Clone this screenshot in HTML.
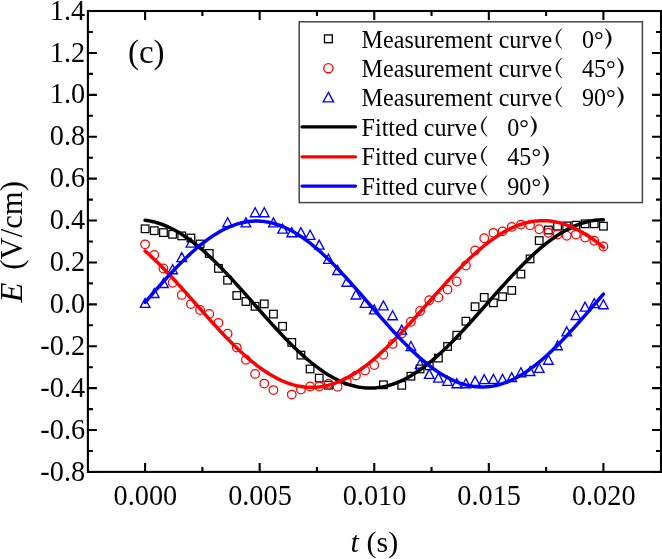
<!DOCTYPE html>
<html><head><meta charset="utf-8"><title>Chart</title>
<style>html,body{margin:0;padding:0;background:#fff;}body{width:662px;height:559px;overflow:hidden;font-family:"Liberation Serif",serif;}svg{display:block;}text{font-family:"Liberation Serif",serif;}#txt{opacity:0.99;}#ltxt{filter:grayscale(1);}</style>
</head><body>
<svg width="662" height="559" viewBox="0 0 662 559">
<rect x="0" y="0" width="662" height="559" fill="#fff"/>
<g id="markers">
<rect x="141.30" y="225.00" width="7.6" height="7.6" fill="none" stroke="#000" stroke-width="1.25"/>
<rect x="150.47" y="226.90" width="7.6" height="7.6" fill="none" stroke="#000" stroke-width="1.25"/>
<rect x="159.63" y="228.80" width="7.6" height="7.6" fill="none" stroke="#000" stroke-width="1.25"/>
<rect x="168.80" y="230.50" width="7.6" height="7.6" fill="none" stroke="#000" stroke-width="1.25"/>
<rect x="177.96" y="232.10" width="7.6" height="7.6" fill="none" stroke="#000" stroke-width="1.25"/>
<rect x="187.13" y="234.20" width="7.6" height="7.6" fill="none" stroke="#000" stroke-width="1.25"/>
<rect x="196.30" y="240.20" width="7.6" height="7.6" fill="none" stroke="#000" stroke-width="1.25"/>
<rect x="205.46" y="249.70" width="7.6" height="7.6" fill="none" stroke="#000" stroke-width="1.25"/>
<rect x="214.63" y="264.60" width="7.6" height="7.6" fill="none" stroke="#000" stroke-width="1.25"/>
<rect x="223.79" y="276.40" width="7.6" height="7.6" fill="none" stroke="#000" stroke-width="1.25"/>
<rect x="232.96" y="291.70" width="7.6" height="7.6" fill="none" stroke="#000" stroke-width="1.25"/>
<rect x="242.13" y="297.70" width="7.6" height="7.6" fill="none" stroke="#000" stroke-width="1.25"/>
<rect x="251.29" y="302.50" width="7.6" height="7.6" fill="none" stroke="#000" stroke-width="1.25"/>
<rect x="260.46" y="300.10" width="7.6" height="7.6" fill="none" stroke="#000" stroke-width="1.25"/>
<rect x="269.62" y="310.30" width="7.6" height="7.6" fill="none" stroke="#000" stroke-width="1.25"/>
<rect x="278.79" y="322.50" width="7.6" height="7.6" fill="none" stroke="#000" stroke-width="1.25"/>
<rect x="287.96" y="338.60" width="7.6" height="7.6" fill="none" stroke="#000" stroke-width="1.25"/>
<rect x="297.12" y="351.30" width="7.6" height="7.6" fill="none" stroke="#000" stroke-width="1.25"/>
<rect x="306.29" y="365.20" width="7.6" height="7.6" fill="none" stroke="#000" stroke-width="1.25"/>
<rect x="315.45" y="374.30" width="7.6" height="7.6" fill="none" stroke="#000" stroke-width="1.25"/>
<rect x="324.62" y="381.40" width="7.6" height="7.6" fill="none" stroke="#000" stroke-width="1.25"/>
<rect x="379.62" y="381.00" width="7.6" height="7.6" fill="none" stroke="#000" stroke-width="1.25"/>
<rect x="397.95" y="381.50" width="7.6" height="7.6" fill="none" stroke="#000" stroke-width="1.25"/>
<rect x="407.11" y="372.40" width="7.6" height="7.6" fill="none" stroke="#000" stroke-width="1.25"/>
<rect x="416.28" y="365.10" width="7.6" height="7.6" fill="none" stroke="#000" stroke-width="1.25"/>
<rect x="425.45" y="362.10" width="7.6" height="7.6" fill="none" stroke="#000" stroke-width="1.25"/>
<rect x="434.61" y="354.30" width="7.6" height="7.6" fill="none" stroke="#000" stroke-width="1.25"/>
<rect x="443.78" y="342.70" width="7.6" height="7.6" fill="none" stroke="#000" stroke-width="1.25"/>
<rect x="452.94" y="331.40" width="7.6" height="7.6" fill="none" stroke="#000" stroke-width="1.25"/>
<rect x="462.11" y="317.40" width="7.6" height="7.6" fill="none" stroke="#000" stroke-width="1.25"/>
<rect x="471.28" y="302.90" width="7.6" height="7.6" fill="none" stroke="#000" stroke-width="1.25"/>
<rect x="480.44" y="293.60" width="7.6" height="7.6" fill="none" stroke="#000" stroke-width="1.25"/>
<rect x="489.61" y="299.00" width="7.6" height="7.6" fill="none" stroke="#000" stroke-width="1.25"/>
<rect x="498.77" y="292.90" width="7.6" height="7.6" fill="none" stroke="#000" stroke-width="1.25"/>
<rect x="507.94" y="286.60" width="7.6" height="7.6" fill="none" stroke="#000" stroke-width="1.25"/>
<rect x="517.11" y="270.30" width="7.6" height="7.6" fill="none" stroke="#000" stroke-width="1.25"/>
<rect x="526.27" y="255.10" width="7.6" height="7.6" fill="none" stroke="#000" stroke-width="1.25"/>
<rect x="535.44" y="236.80" width="7.6" height="7.6" fill="none" stroke="#000" stroke-width="1.25"/>
<rect x="544.60" y="226.20" width="7.6" height="7.6" fill="none" stroke="#000" stroke-width="1.25"/>
<rect x="553.77" y="222.30" width="7.6" height="7.6" fill="none" stroke="#000" stroke-width="1.25"/>
<rect x="562.94" y="222.10" width="7.6" height="7.6" fill="none" stroke="#000" stroke-width="1.25"/>
<rect x="572.10" y="221.40" width="7.6" height="7.6" fill="none" stroke="#000" stroke-width="1.25"/>
<rect x="581.27" y="220.00" width="7.6" height="7.6" fill="none" stroke="#000" stroke-width="1.25"/>
<rect x="590.43" y="220.00" width="7.6" height="7.6" fill="none" stroke="#000" stroke-width="1.25"/>
<rect x="599.60" y="222.40" width="7.6" height="7.6" fill="none" stroke="#000" stroke-width="1.25"/>
<circle cx="145.10" cy="244.30" r="4.3" fill="none" stroke="#f00" stroke-width="1.25"/>
<circle cx="154.27" cy="254.90" r="4.3" fill="none" stroke="#f00" stroke-width="1.25"/>
<circle cx="163.43" cy="268.50" r="4.3" fill="none" stroke="#f00" stroke-width="1.25"/>
<circle cx="172.60" cy="282.70" r="4.3" fill="none" stroke="#f00" stroke-width="1.25"/>
<circle cx="181.76" cy="294.90" r="4.3" fill="none" stroke="#f00" stroke-width="1.25"/>
<circle cx="190.93" cy="304.10" r="4.3" fill="none" stroke="#f00" stroke-width="1.25"/>
<circle cx="200.10" cy="310.00" r="4.3" fill="none" stroke="#f00" stroke-width="1.25"/>
<circle cx="209.26" cy="313.90" r="4.3" fill="none" stroke="#f00" stroke-width="1.25"/>
<circle cx="218.43" cy="322.80" r="4.3" fill="none" stroke="#f00" stroke-width="1.25"/>
<circle cx="227.59" cy="333.70" r="4.3" fill="none" stroke="#f00" stroke-width="1.25"/>
<circle cx="236.76" cy="347.60" r="4.3" fill="none" stroke="#f00" stroke-width="1.25"/>
<circle cx="245.93" cy="359.70" r="4.3" fill="none" stroke="#f00" stroke-width="1.25"/>
<circle cx="255.09" cy="373.90" r="4.3" fill="none" stroke="#f00" stroke-width="1.25"/>
<circle cx="264.26" cy="383.60" r="4.3" fill="none" stroke="#f00" stroke-width="1.25"/>
<circle cx="273.42" cy="390.10" r="4.3" fill="none" stroke="#f00" stroke-width="1.25"/>
<circle cx="291.76" cy="394.60" r="4.3" fill="none" stroke="#f00" stroke-width="1.25"/>
<circle cx="300.92" cy="389.60" r="4.3" fill="none" stroke="#f00" stroke-width="1.25"/>
<circle cx="310.09" cy="386.50" r="4.3" fill="none" stroke="#f00" stroke-width="1.25"/>
<circle cx="319.25" cy="386.50" r="4.3" fill="none" stroke="#f00" stroke-width="1.25"/>
<circle cx="328.42" cy="383.70" r="4.3" fill="none" stroke="#f00" stroke-width="1.25"/>
<circle cx="337.59" cy="386.70" r="4.3" fill="none" stroke="#f00" stroke-width="1.25"/>
<circle cx="346.75" cy="381.30" r="4.3" fill="none" stroke="#f00" stroke-width="1.25"/>
<circle cx="355.92" cy="375.60" r="4.3" fill="none" stroke="#f00" stroke-width="1.25"/>
<circle cx="365.08" cy="370.40" r="4.3" fill="none" stroke="#f00" stroke-width="1.25"/>
<circle cx="374.25" cy="365.00" r="4.3" fill="none" stroke="#f00" stroke-width="1.25"/>
<circle cx="383.42" cy="354.70" r="4.3" fill="none" stroke="#f00" stroke-width="1.25"/>
<circle cx="392.58" cy="343.90" r="4.3" fill="none" stroke="#f00" stroke-width="1.25"/>
<circle cx="401.75" cy="333.60" r="4.3" fill="none" stroke="#f00" stroke-width="1.25"/>
<circle cx="410.91" cy="321.70" r="4.3" fill="none" stroke="#f00" stroke-width="1.25"/>
<circle cx="420.08" cy="311.00" r="4.3" fill="none" stroke="#f00" stroke-width="1.25"/>
<circle cx="429.25" cy="300.20" r="4.3" fill="none" stroke="#f00" stroke-width="1.25"/>
<circle cx="438.41" cy="297.50" r="4.3" fill="none" stroke="#f00" stroke-width="1.25"/>
<circle cx="447.58" cy="289.60" r="4.3" fill="none" stroke="#f00" stroke-width="1.25"/>
<circle cx="456.74" cy="281.50" r="4.3" fill="none" stroke="#f00" stroke-width="1.25"/>
<circle cx="465.91" cy="265.50" r="4.3" fill="none" stroke="#f00" stroke-width="1.25"/>
<circle cx="475.08" cy="250.40" r="4.3" fill="none" stroke="#f00" stroke-width="1.25"/>
<circle cx="484.24" cy="238.20" r="4.3" fill="none" stroke="#f00" stroke-width="1.25"/>
<circle cx="493.41" cy="232.80" r="4.3" fill="none" stroke="#f00" stroke-width="1.25"/>
<circle cx="502.57" cy="231.30" r="4.3" fill="none" stroke="#f00" stroke-width="1.25"/>
<circle cx="511.74" cy="226.90" r="4.3" fill="none" stroke="#f00" stroke-width="1.25"/>
<circle cx="520.91" cy="224.60" r="4.3" fill="none" stroke="#f00" stroke-width="1.25"/>
<circle cx="530.07" cy="225.20" r="4.3" fill="none" stroke="#f00" stroke-width="1.25"/>
<circle cx="539.24" cy="229.20" r="4.3" fill="none" stroke="#f00" stroke-width="1.25"/>
<circle cx="548.40" cy="232.70" r="4.3" fill="none" stroke="#f00" stroke-width="1.25"/>
<circle cx="557.57" cy="234.50" r="4.3" fill="none" stroke="#f00" stroke-width="1.25"/>
<circle cx="566.74" cy="235.70" r="4.3" fill="none" stroke="#f00" stroke-width="1.25"/>
<circle cx="575.90" cy="234.60" r="4.3" fill="none" stroke="#f00" stroke-width="1.25"/>
<circle cx="585.07" cy="237.50" r="4.3" fill="none" stroke="#f00" stroke-width="1.25"/>
<circle cx="594.23" cy="240.70" r="4.3" fill="none" stroke="#f00" stroke-width="1.25"/>
<circle cx="603.40" cy="246.50" r="4.3" fill="none" stroke="#f00" stroke-width="1.25"/>
<polygon points="145.10,298.40 140.30,307.40 149.90,307.40" fill="none" stroke="#00f" stroke-width="1.35" stroke-linejoin="miter"/>
<polygon points="154.27,288.50 149.47,297.50 159.07,297.50" fill="none" stroke="#00f" stroke-width="1.35" stroke-linejoin="miter"/>
<polygon points="163.43,278.50 158.63,287.50 168.23,287.50" fill="none" stroke="#00f" stroke-width="1.35" stroke-linejoin="miter"/>
<polygon points="172.60,264.70 167.80,273.70 177.40,273.70" fill="none" stroke="#00f" stroke-width="1.35" stroke-linejoin="miter"/>
<polygon points="181.76,252.60 176.96,261.60 186.56,261.60" fill="none" stroke="#00f" stroke-width="1.35" stroke-linejoin="miter"/>
<polygon points="190.93,238.10 186.13,247.10 195.73,247.10" fill="none" stroke="#00f" stroke-width="1.35" stroke-linejoin="miter"/>
<polygon points="227.59,217.70 222.79,226.70 232.39,226.70" fill="none" stroke="#00f" stroke-width="1.35" stroke-linejoin="miter"/>
<polygon points="245.93,217.90 241.13,226.90 250.73,226.90" fill="none" stroke="#00f" stroke-width="1.35" stroke-linejoin="miter"/>
<polygon points="255.09,207.70 250.29,216.70 259.89,216.70" fill="none" stroke="#00f" stroke-width="1.35" stroke-linejoin="miter"/>
<polygon points="264.26,207.70 259.46,216.70 269.06,216.70" fill="none" stroke="#00f" stroke-width="1.35" stroke-linejoin="miter"/>
<polygon points="273.42,217.90 268.62,226.90 278.22,226.90" fill="none" stroke="#00f" stroke-width="1.35" stroke-linejoin="miter"/>
<polygon points="282.59,224.10 277.79,233.10 287.39,233.10" fill="none" stroke="#00f" stroke-width="1.35" stroke-linejoin="miter"/>
<polygon points="291.76,227.70 286.96,236.70 296.56,236.70" fill="none" stroke="#00f" stroke-width="1.35" stroke-linejoin="miter"/>
<polygon points="300.92,227.65 296.12,236.65 305.72,236.65" fill="none" stroke="#00f" stroke-width="1.35" stroke-linejoin="miter"/>
<polygon points="310.09,230.30 305.29,239.30 314.89,239.30" fill="none" stroke="#00f" stroke-width="1.35" stroke-linejoin="miter"/>
<polygon points="319.25,240.10 314.45,249.10 324.05,249.10" fill="none" stroke="#00f" stroke-width="1.35" stroke-linejoin="miter"/>
<polygon points="328.42,254.30 323.62,263.30 333.22,263.30" fill="none" stroke="#00f" stroke-width="1.35" stroke-linejoin="miter"/>
<polygon points="337.59,265.50 332.79,274.50 342.39,274.50" fill="none" stroke="#00f" stroke-width="1.35" stroke-linejoin="miter"/>
<polygon points="346.75,277.20 341.95,286.20 351.55,286.20" fill="none" stroke="#00f" stroke-width="1.35" stroke-linejoin="miter"/>
<polygon points="355.92,290.00 351.12,299.00 360.72,299.00" fill="none" stroke="#00f" stroke-width="1.35" stroke-linejoin="miter"/>
<polygon points="365.08,298.30 360.28,307.30 369.88,307.30" fill="none" stroke="#00f" stroke-width="1.35" stroke-linejoin="miter"/>
<polygon points="374.25,304.90 369.45,313.90 379.05,313.90" fill="none" stroke="#00f" stroke-width="1.35" stroke-linejoin="miter"/>
<polygon points="383.42,300.90 378.62,309.90 388.22,309.90" fill="none" stroke="#00f" stroke-width="1.35" stroke-linejoin="miter"/>
<polygon points="392.58,310.70 387.78,319.70 397.38,319.70" fill="none" stroke="#00f" stroke-width="1.35" stroke-linejoin="miter"/>
<polygon points="401.75,325.10 396.95,334.10 406.55,334.10" fill="none" stroke="#00f" stroke-width="1.35" stroke-linejoin="miter"/>
<polygon points="410.91,341.50 406.11,350.50 415.71,350.50" fill="none" stroke="#00f" stroke-width="1.35" stroke-linejoin="miter"/>
<polygon points="420.08,359.20 415.28,368.20 424.88,368.20" fill="none" stroke="#00f" stroke-width="1.35" stroke-linejoin="miter"/>
<polygon points="429.25,369.40 424.45,378.40 434.05,378.40" fill="none" stroke="#00f" stroke-width="1.35" stroke-linejoin="miter"/>
<polygon points="438.41,373.10 433.61,382.10 443.21,382.10" fill="none" stroke="#00f" stroke-width="1.35" stroke-linejoin="miter"/>
<polygon points="447.58,376.30 442.78,385.30 452.38,385.30" fill="none" stroke="#00f" stroke-width="1.35" stroke-linejoin="miter"/>
<polygon points="456.74,378.70 451.94,387.70 461.54,387.70" fill="none" stroke="#00f" stroke-width="1.35" stroke-linejoin="miter"/>
<polygon points="465.91,378.70 461.11,387.70 470.71,387.70" fill="none" stroke="#00f" stroke-width="1.35" stroke-linejoin="miter"/>
<polygon points="475.08,376.40 470.28,385.40 479.88,385.40" fill="none" stroke="#00f" stroke-width="1.35" stroke-linejoin="miter"/>
<polygon points="484.24,374.60 479.44,383.60 489.04,383.60" fill="none" stroke="#00f" stroke-width="1.35" stroke-linejoin="miter"/>
<polygon points="493.41,374.40 488.61,383.40 498.21,383.40" fill="none" stroke="#00f" stroke-width="1.35" stroke-linejoin="miter"/>
<polygon points="502.57,374.40 497.77,383.40 507.37,383.40" fill="none" stroke="#00f" stroke-width="1.35" stroke-linejoin="miter"/>
<polygon points="511.74,372.60 506.94,381.60 516.54,381.60" fill="none" stroke="#00f" stroke-width="1.35" stroke-linejoin="miter"/>
<polygon points="520.91,367.70 516.11,376.70 525.71,376.70" fill="none" stroke="#00f" stroke-width="1.35" stroke-linejoin="miter"/>
<polygon points="530.07,366.50 525.27,375.50 534.87,375.50" fill="none" stroke="#00f" stroke-width="1.35" stroke-linejoin="miter"/>
<polygon points="539.24,363.40 534.44,372.40 544.04,372.40" fill="none" stroke="#00f" stroke-width="1.35" stroke-linejoin="miter"/>
<polygon points="548.40,355.20 543.60,364.20 553.20,364.20" fill="none" stroke="#00f" stroke-width="1.35" stroke-linejoin="miter"/>
<polygon points="557.57,340.70 552.77,349.70 562.37,349.70" fill="none" stroke="#00f" stroke-width="1.35" stroke-linejoin="miter"/>
<polygon points="566.74,326.90 561.94,335.90 571.54,335.90" fill="none" stroke="#00f" stroke-width="1.35" stroke-linejoin="miter"/>
<polygon points="575.90,310.45 571.10,319.45 580.70,319.45" fill="none" stroke="#00f" stroke-width="1.35" stroke-linejoin="miter"/>
<polygon points="585.07,302.10 580.27,311.10 589.87,311.10" fill="none" stroke="#00f" stroke-width="1.35" stroke-linejoin="miter"/>
<polygon points="594.23,298.60 589.43,307.60 599.03,307.60" fill="none" stroke="#00f" stroke-width="1.35" stroke-linejoin="miter"/>
<polygon points="603.40,299.70 598.60,308.70 608.20,308.70" fill="none" stroke="#00f" stroke-width="1.35" stroke-linejoin="miter"/>
</g>
<polyline points="145.10,220.27 147.09,220.53 149.09,220.85 151.08,221.23 153.07,221.67 155.06,222.16 157.06,222.72 159.05,223.34 161.04,224.01 163.03,224.74 165.03,225.53 167.02,226.38 169.01,227.28 171.00,228.24 173.00,229.25 174.99,230.32 176.98,231.44 178.97,232.61 180.97,233.83 182.96,235.11 184.95,236.43 186.94,237.80 188.94,239.22 190.93,240.69 192.92,242.20 194.92,243.76 196.91,245.36 198.90,247.01 200.89,248.69 202.89,250.42 204.88,252.18 206.87,253.98 208.86,255.82 210.86,257.69 212.85,259.60 214.84,261.53 216.83,263.50 218.83,265.50 220.82,267.52 222.81,269.58 224.80,271.65 226.80,273.75 228.79,275.87 230.78,278.02 232.77,280.18 234.77,282.35 236.76,284.55 238.75,286.75 240.75,288.97 242.74,291.20 244.73,293.44 246.72,295.69 248.72,297.95 250.71,300.20 252.70,302.46 254.69,304.73 256.69,306.99 258.68,309.24 260.67,311.50 262.66,313.75 264.66,315.99 266.65,318.23 268.64,320.45 270.63,322.66 272.63,324.86 274.62,327.04 276.61,329.21 278.60,331.35 280.60,333.48 282.59,335.59 284.58,337.67 286.58,339.73 288.57,341.76 290.56,343.77 292.55,345.75 294.55,347.69 296.54,349.61 298.53,351.49 300.52,353.34 302.52,355.15 304.51,356.93 306.50,358.66 308.49,360.36 310.49,362.02 312.48,363.63 314.47,365.20 316.46,366.73 318.46,368.21 320.45,369.65 322.44,371.03 324.43,372.37 326.43,373.66 328.42,374.90 330.41,376.09 332.41,377.22 334.40,378.31 336.39,379.34 338.38,380.31 340.38,381.23 342.37,382.09 344.36,382.90 346.35,383.65 348.35,384.34 350.34,384.97 352.33,385.55 354.32,386.06 356.32,386.52 358.31,386.92 360.30,387.25 362.29,387.53 364.29,387.75 366.28,387.90 368.27,388.00 370.26,388.03 372.26,388.00 374.25,387.92 376.24,387.77 378.24,387.56 380.23,387.29 382.22,386.96 384.21,386.57 386.21,386.12 388.20,385.61 390.19,385.04 392.18,384.42 394.18,383.73 396.17,382.99 398.16,382.19 400.15,381.33 402.15,380.42 404.14,379.45 406.13,378.43 408.12,377.35 410.12,376.22 412.11,375.04 414.10,373.81 416.09,372.53 418.09,371.19 420.08,369.81 422.07,368.38 424.07,366.91 426.06,365.38 428.05,363.82 430.04,362.21 432.04,360.56 434.03,358.87 436.02,357.13 438.01,355.36 440.01,353.55 442.00,351.71 443.99,349.83 445.98,347.92 447.98,345.98 449.97,344.00 451.96,342.00 453.95,339.97 455.95,337.92 457.94,335.83 459.93,333.73 461.92,331.61 463.92,329.46 465.91,327.30 467.90,325.12 469.90,322.92 471.89,320.71 473.88,318.49 475.87,316.25 477.87,314.01 479.86,311.76 481.85,309.51 483.84,307.25 485.84,304.99 487.83,302.73 489.82,300.47 491.81,298.21 493.81,295.96 495.80,293.71 497.79,291.47 499.78,289.24 501.78,287.01 503.77,284.81 505.76,282.61 507.75,280.43 509.75,278.27 511.74,276.12 513.73,274.00 515.73,271.90 517.72,269.82 519.71,267.76 521.70,265.74 523.70,263.74 525.69,261.76 527.68,259.82 529.67,257.91 531.67,256.04 533.66,254.20 535.65,252.39 537.64,250.62 539.64,248.89 541.63,247.20 543.62,245.55 545.61,243.95 547.61,242.38 549.60,240.87 551.59,239.39 553.58,237.97 555.58,236.59 557.57,235.26 559.56,233.98 561.56,232.75 563.55,231.57 565.54,230.45 567.53,229.37 569.53,228.35 571.52,227.39 573.51,226.48 575.50,225.63 577.50,224.83 579.49,224.09 581.48,223.41 583.47,222.79 585.47,222.23 587.46,221.72 589.45,221.28 591.44,220.89 593.44,220.56 595.43,220.30 597.42,220.09 599.41,219.95 601.41,219.87 603.40,219.84" fill="none" stroke="#000" stroke-width="3.5" stroke-linecap="round" stroke-linejoin="round"/>
<polyline points="145.10,250.99 147.09,252.75 149.09,254.55 151.08,256.38 153.07,258.25 155.06,260.15 157.06,262.09 159.05,264.05 161.04,266.04 163.03,268.07 165.03,270.11 167.02,272.19 169.01,274.28 171.00,276.40 173.00,278.54 174.99,280.69 176.98,282.87 178.97,285.06 180.97,287.26 182.96,289.47 184.95,291.70 186.94,293.93 188.94,296.18 190.93,298.42 192.92,300.68 194.92,302.93 196.91,305.18 198.90,307.44 200.89,309.69 202.89,311.94 204.88,314.18 206.87,316.41 208.86,318.64 210.86,320.85 212.85,323.06 214.84,325.24 216.83,327.42 218.83,329.57 220.82,331.71 222.81,333.83 224.80,335.92 226.80,337.99 228.79,340.04 230.78,342.06 232.77,344.05 234.77,346.01 236.76,347.94 238.75,349.84 240.75,351.71 242.74,353.54 244.73,355.34 246.72,357.09 248.72,358.81 250.71,360.49 252.70,362.13 254.69,363.72 256.69,365.27 258.68,366.78 260.67,368.24 262.66,369.65 264.66,371.02 266.65,372.33 268.64,373.60 270.63,374.81 272.63,375.97 274.62,377.08 276.61,378.14 278.60,379.14 280.60,380.09 282.59,380.98 284.58,381.82 286.58,382.59 288.57,383.31 290.56,383.98 292.55,384.58 294.55,385.13 296.54,385.61 298.53,386.04 300.52,386.40 302.52,386.71 304.51,386.95 306.50,387.14 308.49,387.26 310.49,387.32 312.48,387.32 314.47,387.26 316.46,387.14 318.46,386.96 320.45,386.72 322.44,386.41 324.43,386.05 326.43,385.63 328.42,385.14 330.41,384.60 332.41,384.00 334.40,383.34 336.39,382.62 338.38,381.84 340.38,381.01 342.37,380.12 344.36,379.17 346.35,378.17 348.35,377.12 350.34,376.01 352.33,374.85 354.32,373.64 356.32,372.37 358.31,371.06 360.30,369.70 362.29,368.28 364.29,366.83 366.28,365.32 368.27,363.77 370.26,362.18 372.26,360.54 374.25,358.87 376.24,357.15 378.24,355.39 380.23,353.60 382.22,351.77 384.21,349.90 386.21,348.01 388.20,346.08 390.19,344.11 392.18,342.12 394.18,340.10 396.17,338.06 398.16,335.99 400.15,333.89 402.15,331.78 404.14,329.64 406.13,327.49 408.12,325.31 410.12,323.13 412.11,320.93 414.10,318.71 416.09,316.49 418.09,314.25 420.08,312.01 422.07,309.76 424.07,307.51 426.06,305.26 428.05,303.00 430.04,300.75 432.04,298.50 434.03,296.25 436.02,294.01 438.01,291.77 440.01,289.55 442.00,287.33 443.99,285.13 445.98,282.94 447.98,280.76 449.97,278.61 451.96,276.47 453.95,274.35 455.95,272.25 457.94,270.18 459.93,268.13 461.92,266.11 463.92,264.11 465.91,262.15 467.90,260.22 469.90,258.31 471.89,256.44 473.88,254.61 475.87,252.81 477.87,251.05 479.86,249.33 481.85,247.65 483.84,246.01 485.84,244.41 487.83,242.85 489.82,241.35 491.81,239.88 493.81,238.46 495.80,237.10 497.79,235.78 499.78,234.51 501.78,233.29 503.77,232.12 505.76,231.01 507.75,229.95 509.75,228.94 511.74,227.99 513.73,227.09 515.73,226.25 517.72,225.47 519.71,224.74 521.70,224.08 523.70,223.47 525.69,222.92 527.68,222.43 529.67,222.00 531.67,221.63 533.66,221.32 535.65,221.07 537.64,220.88 539.64,220.75 541.63,220.68 543.62,220.68 545.61,220.73 547.61,220.85 549.60,221.02 551.59,221.26 553.58,221.56 555.58,221.92 557.57,222.34 559.56,222.82 561.56,223.35 563.55,223.95 565.54,224.61 567.53,225.32 569.53,226.09 571.52,226.92 573.51,227.80 575.50,228.75 577.50,229.74 579.49,230.79 581.48,231.90 583.47,233.05 585.47,234.26 587.46,235.52 589.45,236.83 591.44,238.19 593.44,239.60 595.43,241.05 597.42,242.55 599.41,244.10 601.41,245.69 603.40,247.32" fill="none" stroke="#f00" stroke-width="3.5" stroke-linecap="round" stroke-linejoin="round"/>
<polyline points="145.10,302.37 147.09,300.07 149.09,297.78 151.08,295.48 153.07,293.20 155.06,290.92 157.06,288.65 159.05,286.40 161.04,284.15 163.03,281.93 165.03,279.72 167.02,277.53 169.01,275.36 171.00,273.21 173.00,271.08 174.99,268.98 176.98,266.91 178.97,264.87 180.97,262.85 182.96,260.87 184.95,258.92 186.94,257.01 188.94,255.13 190.93,253.29 192.92,251.49 194.92,249.73 196.91,248.01 198.90,246.33 200.89,244.70 202.89,243.11 204.88,241.57 206.87,240.08 208.86,238.64 210.86,237.25 212.85,235.91 214.84,234.62 216.83,233.39 218.83,232.21 220.82,231.08 222.81,230.02 224.80,229.01 226.80,228.05 228.79,227.16 230.78,226.32 232.77,225.54 234.77,224.83 236.76,224.17 238.75,223.58 240.75,223.05 242.74,222.58 244.73,222.18 246.72,221.83 248.72,221.55 250.71,221.34 252.70,221.18 254.69,221.10 256.69,221.07 258.68,221.11 260.67,221.21 262.66,221.38 264.66,221.61 266.65,221.90 268.64,222.26 270.63,222.68 272.63,223.16 274.62,223.71 276.61,224.31 278.60,224.98 280.60,225.71 282.59,226.50 284.58,227.35 286.58,228.25 288.57,229.22 290.56,230.24 292.55,231.32 294.55,232.46 296.54,233.65 298.53,234.90 300.52,236.20 302.52,237.55 304.51,238.95 306.50,240.40 308.49,241.90 310.49,243.45 312.48,245.05 314.47,246.69 316.46,248.38 318.46,250.10 320.45,251.87 322.44,253.68 324.43,255.53 326.43,257.42 328.42,259.34 330.41,261.30 332.41,263.29 334.40,265.31 336.39,267.36 338.38,269.44 340.38,271.54 342.37,273.67 344.36,275.83 346.35,278.00 348.35,280.20 350.34,282.41 352.33,284.64 354.32,286.89 356.32,289.14 358.31,291.41 360.30,293.69 362.29,295.98 364.29,298.27 366.28,300.57 368.27,302.87 370.26,305.18 372.26,307.48 374.25,309.77 376.24,312.07 378.24,314.36 380.23,316.64 382.22,318.91 384.21,321.16 386.21,323.41 388.20,325.64 390.19,327.85 392.18,330.05 394.18,332.22 396.17,334.38 398.16,336.51 400.15,338.61 402.15,340.69 404.14,342.74 406.13,344.76 408.12,346.75 410.12,348.71 412.11,350.63 414.10,352.51 416.09,354.36 418.09,356.17 420.08,357.94 422.07,359.67 424.07,361.36 426.06,363.00 428.05,364.59 430.04,366.14 432.04,367.64 434.03,369.10 436.02,370.50 438.01,371.85 440.01,373.15 442.00,374.39 443.99,375.58 445.98,376.72 447.98,377.80 449.97,378.82 451.96,379.79 453.95,380.70 455.95,381.55 457.94,382.33 459.93,383.06 461.92,383.73 463.92,384.34 465.91,384.88 467.90,385.36 469.90,385.78 471.89,386.14 473.88,386.43 475.87,386.66 477.87,386.83 479.86,386.93 481.85,386.97 483.84,386.94 485.84,386.86 487.83,386.70 489.82,386.49 491.81,386.21 493.81,385.86 495.80,385.46 497.79,384.99 499.78,384.46 501.78,383.86 503.77,383.21 505.76,382.49 507.75,381.72 509.75,380.88 511.74,379.98 513.73,379.03 515.73,378.02 517.72,376.95 519.71,375.83 521.70,374.65 523.70,373.41 525.69,372.12 527.68,370.78 529.67,369.39 531.67,367.95 533.66,366.46 535.65,364.92 537.64,363.34 539.64,361.70 541.63,360.03 543.62,358.31 545.61,356.55 547.61,354.75 549.60,352.90 551.59,351.03 553.58,349.11 555.58,347.16 557.57,345.18 559.56,343.17 561.56,341.12 563.55,339.05 565.54,336.95 567.53,334.83 569.53,332.68 571.52,330.51 573.51,328.31 575.50,326.10 577.50,323.88 579.49,321.64 581.48,319.38 583.47,317.11 585.47,314.83 587.46,312.55 589.45,310.26 591.44,307.96 593.44,305.66 595.43,303.36 597.42,301.05 599.41,298.76 601.41,296.46 603.40,294.17" fill="none" stroke="#00f" stroke-width="3.5" stroke-linecap="round" stroke-linejoin="round"/>
<rect x="87.9" y="11.0" width="573.10" height="460.90" fill="none" stroke="#000" stroke-width="2.1"/>
<path d="M87.9 471.95h9 M661.0 471.95h-9 M87.9 451.00h5 M661.0 451.00h-5 M87.9 430.05h9 M661.0 430.05h-9 M87.9 409.10h5 M661.0 409.10h-5 M87.9 388.15h9 M661.0 388.15h-9 M87.9 367.20h5 M661.0 367.20h-5 M87.9 346.25h9 M661.0 346.25h-9 M87.9 325.30h5 M661.0 325.30h-5 M87.9 304.35h9 M661.0 304.35h-9 M87.9 283.40h5 M661.0 283.40h-5 M87.9 262.45h9 M661.0 262.45h-9 M87.9 241.50h5 M661.0 241.50h-5 M87.9 220.55h9 M661.0 220.55h-9 M87.9 199.60h5 M661.0 199.60h-5 M87.9 178.65h9 M661.0 178.65h-9 M87.9 157.70h5 M661.0 157.70h-5 M87.9 136.75h9 M661.0 136.75h-9 M87.9 115.80h5 M661.0 115.80h-5 M87.9 94.85h9 M661.0 94.85h-9 M87.9 73.90h5 M661.0 73.90h-5 M87.9 52.95h9 M661.0 52.95h-9 M87.9 32.00h5 M661.0 32.00h-5 M87.9 11.05h9 M661.0 11.05h-9 M145.10 471.9v-9 M145.10 11.0v9 M202.39 471.9v-5 M202.39 11.0v5 M259.67 471.9v-9 M259.67 11.0v9 M316.96 471.9v-5 M316.96 11.0v5 M374.25 471.9v-9 M374.25 11.0v9 M431.54 471.9v-5 M431.54 11.0v5 M488.82 471.9v-9 M488.82 11.0v9 M546.11 471.9v-5 M546.11 11.0v5 M603.40 471.9v-9 M603.40 11.0v9" stroke="#000" stroke-width="2.1" fill="none"/>
<g id="txt" font-family="Liberation Serif, serif" fill="#000">
<text transform="translate(85.10,480.55) scale(0.95,1)" font-size="29.8" text-anchor="end" >-0.8</text>
<text transform="translate(85.10,438.65) scale(0.95,1)" font-size="29.8" text-anchor="end" >-0.6</text>
<text transform="translate(85.10,396.75) scale(0.95,1)" font-size="29.8" text-anchor="end" >-0.4</text>
<text transform="translate(85.10,354.85) scale(0.95,1)" font-size="29.8" text-anchor="end" >-0.2</text>
<text transform="translate(85.10,312.95) scale(0.95,1)" font-size="29.8" text-anchor="end" >0.0</text>
<text transform="translate(85.10,271.05) scale(0.95,1)" font-size="29.8" text-anchor="end" >0.2</text>
<text transform="translate(85.10,229.15) scale(0.95,1)" font-size="29.8" text-anchor="end" >0.4</text>
<text transform="translate(85.10,187.25) scale(0.95,1)" font-size="29.8" text-anchor="end" >0.6</text>
<text transform="translate(85.10,145.35) scale(0.95,1)" font-size="29.8" text-anchor="end" >0.8</text>
<text transform="translate(85.10,103.45) scale(0.95,1)" font-size="29.8" text-anchor="end" >1.0</text>
<text transform="translate(85.10,61.55) scale(0.95,1)" font-size="29.8" text-anchor="end" >1.2</text>
<text transform="translate(85.10,19.65) scale(0.95,1)" font-size="29.8" text-anchor="end" >1.4</text>
<text transform="translate(145.40,504.60) scale(0.95,1)" font-size="29.8" text-anchor="middle" >0.000</text>
<text transform="translate(259.97,504.60) scale(0.95,1)" font-size="29.8" text-anchor="middle" >0.005</text>
<text transform="translate(374.55,504.60) scale(0.95,1)" font-size="29.8" text-anchor="middle" >0.010</text>
<text transform="translate(489.12,504.60) scale(0.95,1)" font-size="29.8" text-anchor="middle" >0.015</text>
<text transform="translate(603.70,504.60) scale(0.95,1)" font-size="29.8" text-anchor="middle" >0.020</text>
<text transform="translate(350.60,551.90) scale(0.99,1)" font-size="30.4" text-anchor="start" ><tspan font-style="italic">t</tspan> (s)</text>
<text transform="translate(21.7,302.6) rotate(-90)" font-size="32.6" font-style="italic">E</text>
<text transform="translate(21.7,269.7) rotate(-90) scale(0.9425,1)" font-size="32.6">(V/cm)</text>
<text transform="translate(127.90,62.80) scale(1.0,1)" font-size="33" text-anchor="start" >(c)</text>
</g>
<rect x="299.2" y="21.8" width="343.2" height="180.8" fill="#fff" stroke="#444" stroke-width="1.5"/>
<rect x="324.50" y="34.90" width="7.8" height="7.8" fill="none" stroke="#000" stroke-width="1.35"/>
<circle cx="328.40" cy="68.20" r="4.6" fill="none" stroke="#f00" stroke-width="1.35"/>
<polygon points="328.40,92.50 323.20,101.90 333.60,101.90" fill="none" stroke="#00f" stroke-width="1.4" stroke-linejoin="miter"/>
<path d="M302 126.9H355.5" stroke="#000" stroke-width="3.2" stroke-linecap="round"/>
<path d="M302 156.8H355.5" stroke="#f00" stroke-width="3.2" stroke-linecap="round"/>
<path d="M302 186.1H355.5" stroke="#00f" stroke-width="3.2" stroke-linecap="round"/>
<g id="ltxt" font-family="Liberation Serif, serif" fill="#000">
<text transform="translate(361.60,47.70) scale(0.991,1)" font-size="24.3" text-anchor="start" >Measurement curve</text>
<path d="M561.70 28.70C554.00 34.70 554.00 42.60 561.70 48.60C555.80 42.10 555.80 35.20 561.70 28.70Z" fill="#000" stroke="#000" stroke-width="0.55" stroke-linejoin="round"/>
<text transform="translate(582.00,47.70) scale(0.991,1)" font-size="24.3" text-anchor="start" >0°</text>
<path d="M605.40 28.40C613.20 33.90 613.20 43.30 605.40 48.80C610.40 42.60 610.40 34.60 605.40 28.40Z" fill="#000" stroke="#000" stroke-width="0.5" stroke-linejoin="round"/>
<text transform="translate(361.60,77.10) scale(0.991,1)" font-size="24.3" text-anchor="start" >Measurement curve</text>
<path d="M561.70 58.10C554.00 64.10 554.00 72.00 561.70 78.00C555.80 71.50 555.80 64.60 561.70 58.10Z" fill="#000" stroke="#000" stroke-width="0.55" stroke-linejoin="round"/>
<text transform="translate(582.00,77.10) scale(0.991,1)" font-size="24.3" text-anchor="start" >45°</text>
<path d="M617.50 57.80C625.30 63.30 625.30 72.70 617.50 78.20C622.50 72.00 622.50 64.00 617.50 57.80Z" fill="#000" stroke="#000" stroke-width="0.5" stroke-linejoin="round"/>
<text transform="translate(361.60,106.20) scale(0.991,1)" font-size="24.3" text-anchor="start" >Measurement curve</text>
<path d="M561.70 87.20C554.00 93.20 554.00 101.10 561.70 107.10C555.80 100.60 555.80 93.70 561.70 87.20Z" fill="#000" stroke="#000" stroke-width="0.55" stroke-linejoin="round"/>
<text transform="translate(582.00,106.20) scale(0.991,1)" font-size="24.3" text-anchor="start" >90°</text>
<path d="M617.50 86.90C625.30 92.40 625.30 101.80 617.50 107.30C622.50 101.10 622.50 93.10 617.50 86.90Z" fill="#000" stroke="#000" stroke-width="0.5" stroke-linejoin="round"/>
<text transform="translate(361.60,135.50) scale(0.991,1)" font-size="24.3" text-anchor="start" >Fitted curve</text>
<path d="M487.00 116.50C479.30 122.50 479.30 130.40 487.00 136.40C481.10 129.90 481.10 123.00 487.00 116.50Z" fill="#000" stroke="#000" stroke-width="0.55" stroke-linejoin="round"/>
<text transform="translate(507.30,135.50) scale(0.991,1)" font-size="24.3" text-anchor="start" >0°</text>
<path d="M530.70 116.20C538.50 121.70 538.50 131.10 530.70 136.60C535.70 130.40 535.70 122.40 530.70 116.20Z" fill="#000" stroke="#000" stroke-width="0.5" stroke-linejoin="round"/>
<text transform="translate(361.60,165.10) scale(0.991,1)" font-size="24.3" text-anchor="start" >Fitted curve</text>
<path d="M487.00 146.10C479.30 152.10 479.30 160.00 487.00 166.00C481.10 159.50 481.10 152.60 487.00 146.10Z" fill="#000" stroke="#000" stroke-width="0.55" stroke-linejoin="round"/>
<text transform="translate(507.30,165.10) scale(0.991,1)" font-size="24.3" text-anchor="start" >45°</text>
<path d="M542.80 145.80C550.60 151.30 550.60 160.70 542.80 166.20C547.80 160.00 547.80 152.00 542.80 145.80Z" fill="#000" stroke="#000" stroke-width="0.5" stroke-linejoin="round"/>
<text transform="translate(361.60,194.50) scale(0.991,1)" font-size="24.3" text-anchor="start" >Fitted curve</text>
<path d="M487.00 175.50C479.30 181.50 479.30 189.40 487.00 195.40C481.10 188.90 481.10 182.00 487.00 175.50Z" fill="#000" stroke="#000" stroke-width="0.55" stroke-linejoin="round"/>
<text transform="translate(507.30,194.50) scale(0.991,1)" font-size="24.3" text-anchor="start" >90°</text>
<path d="M542.80 175.20C550.60 180.70 550.60 190.10 542.80 195.60C547.80 189.40 547.80 181.40 542.80 175.20Z" fill="#000" stroke="#000" stroke-width="0.5" stroke-linejoin="round"/>
</g>
</svg>
</body></html>
